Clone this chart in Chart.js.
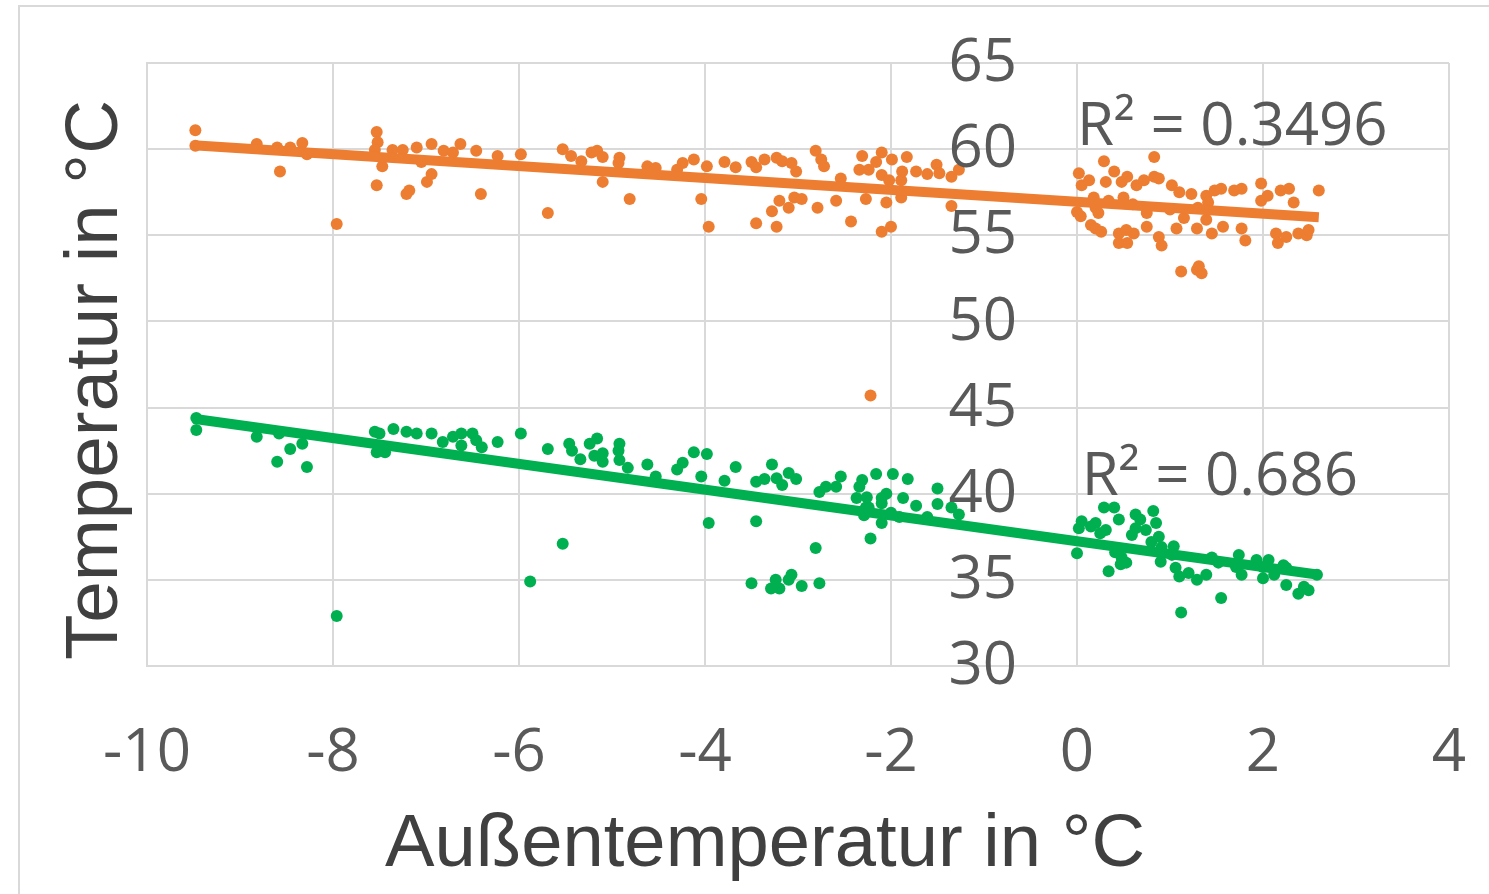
<!DOCTYPE html>
<html><head><meta charset="utf-8">
<script src="https://cdn.jsdelivr.net/npm/chart.js@4"></script>
<style>
html,body{margin:0;padding:0;background:#fff;}
#wrap{position:relative;width:1489px;height:894px;overflow:hidden;background:#fff;}
#frame{position:absolute;left:18px;top:5px;width:1600px;height:1000px;border:2px solid #d9d9d9;box-sizing:border-box;}
canvas{position:absolute;left:0;top:0;}
</style></head>
<body><div id="wrap"><div id="frame"></div><canvas id="c" width="1489" height="894"></canvas></div>
<script>
// ---- data ----
const xTickLabels = ['-10','-8','-6','-4','-2','0','2','4'];
const yTickLabels = ['30','35','40','45','50','55','60','65'];
const xTitle = 'Außentemperatur in °C';
const yTitle = 'Temperatur in °C';
const orangeX = [-9.48,-9.48,-8.82,-8.57,-8.6,-8.46,-8.33,-8.28,-7.96,-7.53,-7.52,-7.55,-7.47,-7.53,-7.21,-7.18,-7.36,-7.25,-7.1,-7.05,
 -6.94,-6.99,-6.94,-6.81,-6.71,-6.63,-6.46,-6.41,-6.23,-5.98,-5.69,-5.53,-5.44,-5.33,-5.22,-5.16,-5.1,-5.1,-4.92,-4.93,
 -4.81,-4.62,-4.53,-4.3,-4.24,-4.12,-3.98,-4.04,-3.96,-3.79,-3.67,-3.5,-3.45,-3.36,-3.23,-3.17,-3.07,-3.02,-3.45,-3.23,
 -3.28,-3.2,-3.1,-3.04,-2.96,-2.81,-2.75,-2.72,-2.79,-2.59,-2.54,-2.43,-2.31,-2.34,-2.24,-2.27,-2.1,-2.16,-1.99,-2.1,
 -2.02,-2.05,-2.1,-2.0,-1.89,-1.89,-1.88,-1.83,-1.73,-1.61,-1.51,-1.48,-1.35,-1.35,-1.27,-2.22,
 0.02,0.05,0.13,0.0,0.04,0.18,0.2,0.23,0.15,0.2,0.26,0.29,0.31,0.4,0.48,0.54,0.34,0.5,0.45,0.53,
 0.61,0.45,0.54,0.64,0.72,0.83,0.88,0.83,0.75,0.75,0.88,0.91,1.02,1.1,1.07,1.15,1.23,1.29,1.12,1.29,
 1.34,1.31,1.39,1.41,1.48,1.55,1.39,1.45,1.57,1.69,1.77,1.77,1.81,1.98,1.98,2.05,2.14,2.16,2.25,2.19,
 2.28,2.33,2.38,2.47,2.49,2.6,0.6,1.0,1.3];
const orangeY = [61.1,60.2,60.3,58.7,60.1,60.1,60.35,59.7,55.65,61.0,60.4,59.95,59.0,57.9,57.4,57.6,59.95,59.95,60.1,59.25,
 60.3,58.1,58.55,59.9,59.8,60.3,59.9,57.4,59.6,59.7,56.3,60.0,59.6,59.3,59.8,59.9,59.55,58.1,59.5,59.2,
 57.1,59.0,58.9,58.8,59.2,59.4,59.0,57.1,55.5,59.25,58.95,59.25,58.95,59.4,59.5,59.3,59.2,58.7,55.7,55.5,
 56.4,57.0,56.6,57.2,57.1,59.9,59.4,59.0,56.6,57.0,58.3,55.8,59.6,58.8,58.8,57.1,59.8,59.25,59.4,58.5,
 58.2,56.9,55.2,55.5,58.2,57.2,58.7,59.55,58.7,58.55,59.1,58.6,58.4,56.7,58.8,45.7,
 58.6,57.9,58.2,56.35,56.1,57.2,56.6,56.3,55.6,55.4,55.2,59.3,58.1,58.7,58.1,58.4,57.0,57.2,55.1,55.3,
 55.1,54.55,54.55,57.9,58.2,58.4,58.3,59.55,56.3,55.5,54.9,54.4,57.9,57.5,55.4,56.0,57.4,55.4,52.9,53.0,
 52.8,53.2,57.3,56.9,57.6,57.7,55.9,55.1,55.5,57.6,57.7,55.4,54.7,58.0,57.0,57.3,55.1,54.55,54.9,57.6,
 57.7,56.9,55.1,55.0,55.3,57.6,56.8,56.5,56.6];
const greenX = [-9.47,-9.47,-8.82,-8.58,-8.6,-8.46,-8.33,-8.28,-7.96,-7.55,-7.5,-7.53,-7.44,-7.35,-7.21,-7.1,-6.94,-6.82,-6.71,-6.62,
 -6.62,-6.5,-6.46,-6.4,-6.23,-5.98,-5.88,-5.53,-5.69,-5.46,-5.43,-5.34,-5.24,-5.16,-5.1,-5.19,-5.1,-4.92,-4.93,-4.92,
 -4.83,-4.62,-4.53,-4.3,-4.24,-4.12,-3.98,-4.04,-3.96,-3.79,-3.67,-3.45,-3.36,-3.23,-3.17,-3.28,-3.1,-3.02,-3.45,-3.5,
 -3.29,-3.2,-3.24,-3.07,-3.1,-2.96,-2.77,-2.81,-2.77,-2.7,-2.59,-2.54,-2.31,-2.34,-2.16,-2.26,-2.37,-2.22,-2.29,-2.27,
 -2.24,-2.1,-2.05,-2.1,-2.1,-2.0,-1.91,-1.98,-1.87,-1.82,-1.73,-1.5,-1.5,-1.61,-1.35,-1.27,
 0.0,0.02,0.05,0.15,0.2,0.31,0.25,0.29,0.4,0.45,0.63,0.68,0.82,0.85,0.63,0.74,0.59,0.34,0.47,0.53,
 0.41,0.48,0.8,0.88,0.91,0.9,1.02,1.04,1.06,1.1,1.2,1.29,1.39,1.45,1.52,1.12,1.55,1.74,1.71,1.77,
 1.93,2.0,2.06,2.0,2.12,2.22,2.25,2.25,2.38,2.49,2.44,2.58];
const greenY = [44.4,43.7,43.3,43.5,41.85,42.6,42.9,41.55,32.9,43.6,43.5,42.4,42.4,43.75,43.6,43.5,43.5,43.0,43.3,43.5,
 42.8,43.5,43.1,42.7,43.0,43.5,34.9,37.1,42.6,42.9,42.5,42.0,42.9,43.2,42.35,42.2,41.85,42.9,42.5,41.95,
 41.5,41.7,41.0,41.4,41.8,42.4,42.3,41.0,38.3,40.75,41.55,40.7,40.85,40.9,40.5,41.7,41.2,40.85,38.4,34.8,
 34.5,34.5,35.0,35.3,35.0,34.65,34.8,36.85,40.1,40.4,40.4,41.0,40.8,40.4,41.15,39.8,39.75,37.4,38.75,39.2,
 39.2,39.75,40.0,39.45,38.3,38.9,38.65,41.15,39.75,40.85,39.3,40.3,39.4,38.65,39.2,38.8,
 36.55,38.0,38.4,38.1,38.3,37.9,37.7,39.2,39.2,38.5,38.8,38.5,39.0,38.3,38.0,37.9,37.6,35.5,35.9,36.0,
 36.6,36.3,37.2,37.5,36.9,36.05,36.45,36.95,35.7,35.2,35.4,35.0,35.3,36.3,36.0,33.1,33.95,36.45,35.75,35.3,
 36.15,35.75,36.15,35.1,35.3,35.85,35.7,34.7,34.2,34.4,34.6,35.3];
const trendX = [-9.5, 2.6];
const orangeTrendY = [60.22, 56.05];
const greenTrendY = [44.35, 35.3];
const r2Labels = ['R\u00B2 = 0.3496', 'R\u00B2 = 0.686'];

// ---- build ----
const ORANGE = '#ED7D31', GREEN = '#00B050';
const pts = (xs, ys) => xs.map((x, i) => ({x, y: ys[i]}));
const GRID = '#d9d9d9';
const TICKFONT = "'Open Sans', sans-serif";
const TITLEFONT = "'Liberation Sans', Arial, sans-serif";

function drawNarrow(ctx, text, cx, cy, targetW, rotate) {
  ctx.save();
  ctx.font = '74px ' + TITLEFONT;
  const w = ctx.measureText(text).width;
  ctx.translate(cx, cy);
  if (rotate) ctx.rotate(-Math.PI / 2);
  ctx.scale(targetW / w, 1);
  ctx.fillStyle = '#404040';
  ctx.textAlign = 'center';
  ctx.textBaseline = 'alphabetic';
  ctx.fillText(text, 0, 0);
  ctx.restore();
}

const overlayPlugin = {
  id: 'overlay',
  afterDatasetsDraw(chart) {
    const ctx = chart.ctx, xs = chart.scales.x, ys = chart.scales.y;
    const x0 = xs.getPixelForValue(0);
    ctx.save();
    ctx.fillStyle = '#595959';
    ctx.font = "60px " + TICKFONT;
    ctx.textAlign = 'right';
    ctx.textBaseline = 'middle';
    yTickLabels.forEach(t => {
      ctx.fillText(t, x0 - 60, ys.getPixelForValue(Number(t)) + 1);
    });
    ctx.textAlign = 'left';
    ctx.textBaseline = 'alphabetic';
    ctx.fillText(r2Labels[0], x0, ys.getPixelForValue(60.25));
    ctx.fillText(r2Labels[1], xs.getPixelForValue(0.05), ys.getPixelForValue(39.9));
    ctx.restore();
    // axis titles
    drawNarrow(ctx, xTitle, 765, 866, 760, false);
    drawNarrow(ctx, yTitle, 117, 380, 560, true);
  }
};

new Chart(document.getElementById('c'), {
  type: 'scatter',
  data: {
    datasets: [
      {type: 'line', data: pts(trendX, orangeTrendY), borderColor: ORANGE, borderWidth: 10, pointRadius: 0, fill: false, order: 0, borderCapStyle: 'butt'},
      {type: 'line', data: pts(trendX, greenTrendY), borderColor: GREEN, borderWidth: 10, pointRadius: 0, fill: false, order: 0, borderCapStyle: 'butt'},
      {data: pts(orangeX, orangeY), backgroundColor: ORANGE, borderColor: ORANGE, borderWidth: 0, pointRadius: 6, order: 1},
      {data: pts(greenX, greenY), backgroundColor: GREEN, borderColor: GREEN, borderWidth: 0, pointRadius: 6, order: 1}
    ]
  },
  options: {
    responsive: false,
    devicePixelRatio: 1,
    animation: false,
    layout: {padding: {top: 63, right: 40, left: 0, bottom: 0}},
    plugins: {legend: {display: false}, tooltip: {enabled: false}},
    scales: {
      x: {
        type: 'linear', min: -10, max: 4,
        afterFit: s => { s.height = 228; s.paddingLeft = 0; s.paddingRight = 0; },
        ticks: {stepSize: 2, color: '#595959', font: {family: TICKFONT, size: 60}, padding: 52,
          callback: (v) => xTickLabels[Math.round((v + 10) / 2)]},
        grid: {color: GRID, lineWidth: 2, drawTicks: false},
        border: {color: GRID, width: 2},
        title: {display: false}
      },
      y: {
        type: 'linear', min: 30, max: 65,
        afterFit: s => { s.width = 147; s.paddingTop = 0; s.paddingBottom = 0; },
        ticks: {stepSize: 5, display: false},
        grid: {color: GRID, lineWidth: 2, drawTicks: false},
        border: {color: GRID, width: 2},
        title: {display: false}
      }
    }
  },
  plugins: [overlayPlugin]
});
</script>
</body></html>
